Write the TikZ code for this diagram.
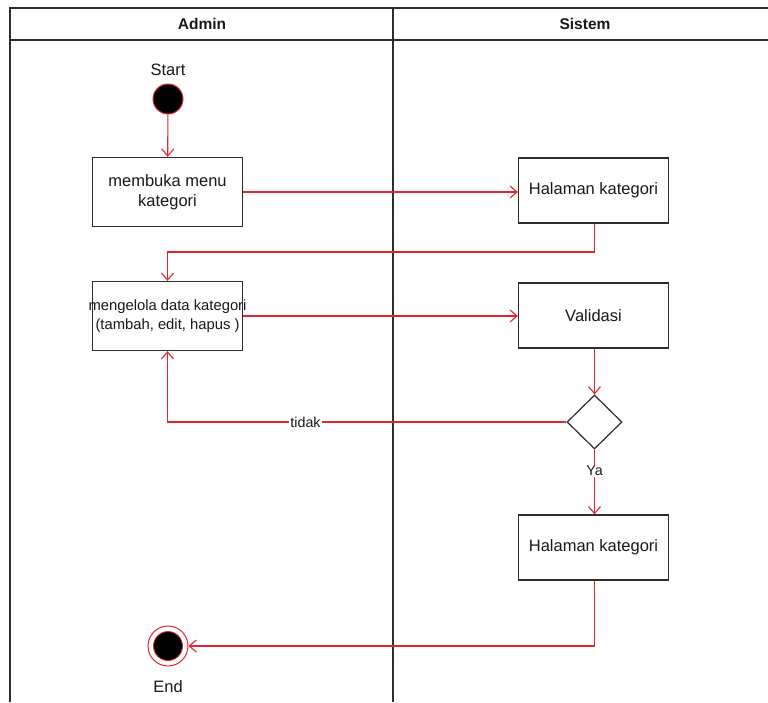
\documentclass[tikz,border=0pt]{standalone}
\usepackage{fontspec}
\setmainfont{Liberation Sans}
\usetikzlibrary{arrows.meta,shapes.geometric}
\definecolor{flow}{RGB}{226,38,48}
\definecolor{frame}{RGB}{45,45,45}
\definecolor{ink}{RGB}{25,25,25}
\begin{document}
\begin{tikzpicture}[x=1pt,y=-1pt,
  lane/.style={draw=frame,line width=1.8pt},
  head/.style={font=\fontsize{15.5}{18}\selectfont\bfseries,text=ink},
  act/.style={draw=frame,line width=1.3pt,fill=white,minimum width=150pt,
    align=center,text=ink,font=\fontsize{16.5}{20}\selectfont,inner sep=0pt},
  txt/.style={text=ink,font=\fontsize{16.5}{20}\selectfont,inner sep=1pt},
  lbl/.style={text=ink,fill=white,font=\fontsize{14.3}{17}\selectfont,inner sep=1pt},
  conn/.style={draw=flow,line width=1.1pt,-{Straight Barb[length=7pt,width=12pt]}},
  decide/.style={diamond,draw=frame,line width=1.2pt,fill=white,
    minimum width=55pt,minimum height=54pt,inner sep=0pt},
]
\useasboundingbox (0,0) rectangle (768,702);
\fill[white] (0,0) rectangle (768,702);

% swimlane frame
\draw[lane] (768,8) -- (10,8) -- (10,702);
\draw[lane] (10,40) -- (768,40);
\draw[lane] (393,8) -- (393,702);
\node[head] (hAdmin) at (202,24) {Admin};
\node[head] (hSistem) at (585,24) {Sistem};

% initial state
\node[txt] (lStart) at (168,70) {Start};
\node[circle,fill=black,draw=flow,line width=1pt,minimum size=30pt,inner sep=0pt] (start) at (168,99) {};

% activities (the long caption of b2 is allowed to spill past its box)
\node[act,minimum height=69pt] (b1) at (167.5,192) {membuka menu\\kategori};
\node[act,minimum height=69pt,font=\fontsize{14.8}{19.5}\selectfont] (b2) at (167.5,316)
  {\makebox[140pt]{mengelola data kategori}\\\makebox[140pt]{(tambah, edit, hapus )}};
\node[act,minimum height=65pt] (h1) at (593.5,190.5) {Halaman kategori};
\node[act,minimum height=65pt] (val) at (593.5,315.5) {Validasi};
\node[decide] (dec) at (594.5,422) {};
\node[act,minimum height=65pt] (h2) at (593.5,547.5) {Halaman kategori};

% final state
\node[circle,draw=flow,line width=1pt,fill=white,minimum size=40pt,inner sep=0pt] (endc) at (168,646) {};
\node[circle,fill=black,draw=flow,line width=0.8pt,minimum size=29pt,inner sep=0pt] (endin) at (endc) {};
\node[txt] (lEnd) at (168,687) {End};

% control flow
\coordinate (turn1) at (594.5,252);
\draw[conn] (start) -- (b1);
\draw[conn] (b1.east) -- (b1.east -| h1.west);
\draw[conn] (h1.south -| turn1) -- (turn1) -| (b2.north);
\draw[conn] (b2.east) -- (b2.east -| val.west);
\draw[conn] (val.south -| dec.north) -- (dec.north);
\draw[conn] (dec.west) -| node[lbl,pos=0.327] (lTidak) {tidak} (b2.south);
\draw[conn] (dec.south) -- node[lbl,pos=0.33] (lYa) {Ya} (h2.north -| dec.south);
\draw[conn] (h2.south -| dec.south) |- (endc);
\end{tikzpicture}
\end{document}
